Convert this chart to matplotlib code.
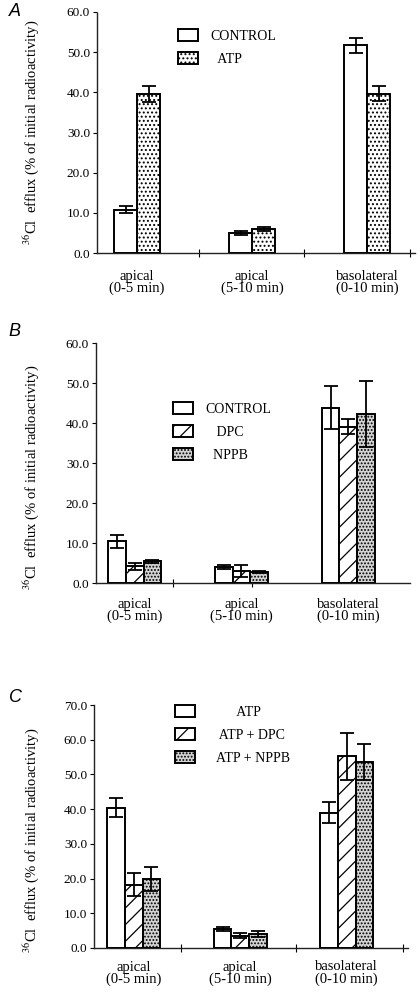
import matplotlib
matplotlib.use('Agg')
import matplotlib.pyplot as plt
from matplotlib.patches import Patch
import numpy as np

plt.rcParams['font.family'] = ['Liberation Serif', 'DejaVu Serif']
plt.rcParams['mathtext.fontset'] = 'stix'
plt.rcParams['hatch.linewidth'] = 0.9

categories = ['apical\n(0-5 min)', 'apical\n(5-10 min)', 'basolateral\n(0-10 min)']

a_series = ['CONTROL', 'ATP']
a_means = [[10.8, 5.0, 51.7], [39.5, 6.0, 39.7]]
a_errs = [[0.9, 0.5, 1.9], [2.0, 0.4, 1.8]]

b_series = ['CONTROL', 'DPC', 'NPPB']
b_means = [[10.4, 3.9, 43.8], [4.2, 3.0, 39.1], [5.4, 2.7, 42.2]]
b_errs = [[1.7, 0.5, 5.4], [0.9, 1.4, 1.9], [0.4, 0.2, 8.2]]

c_series = ['ATP', 'ATP + DPC', 'ATP + NPPB']
c_means = [[40.4, 5.5, 39.0], [18.2, 3.5, 55.2], [19.9, 4.0, 53.6]]
c_errs = [[2.7, 0.5, 3.0], [3.3, 0.7, 6.8], [3.4, 0.8, 5.3]]

yticks_ab = [0, 10, 20, 30, 40, 50, 60]
yticks_c = [0, 10, 20, 30, 40, 50, 60, 70]

ylabel = r'$^{36}$Cl  efflux (% of initial radioactivity)'

STY_WHITE = dict(facecolor='white', hatch=None)
STY_DOTS = dict(facecolor='white', hatch='....')
STY_DIAG = dict(facecolor='white', hatch='//')
STY_GRAY = dict(facecolor='#d4d4d4', hatch='.....')

fig = plt.figure(figsize=(4.2, 9.94), dpi=100)
W, H = 420.0, 994.0


def panel(rect_px, series, means, errs, styles, width, xlim, yticks, bticks,
          leg_labels, leg_anchor, handletextpad, letter, letter_xy, ylab_y, pad):
    x0, y_top, x1, y_bot = rect_px
    ax = fig.add_axes([x0 / W, 1 - y_bot / H, (x1 - x0) / W, (y_bot - y_top) / H])
    x = np.arange(len(categories))
    n = len(series)
    for j in range(n):
        pos = x + (j - (n - 1) / 2) * width
        ax.bar(pos, means[j], width, color=styles[j]['facecolor'], hatch=styles[j]['hatch'],
               edgecolor='black', linewidth=1.4, zorder=3)
        ax.errorbar(pos, means[j], yerr=errs[j], fmt='none', ecolor='black',
                    elinewidth=1.3, capsize=5, capthick=1.3, zorder=4)
    ax.set_xlim(*xlim)
    ax.set_ylim(yticks[0], yticks[-1])
    ax.set_yticks(yticks)
    ax.set_yticklabels(['%.1f' % v for v in yticks], fontsize=9.5)
    ax.set_xticks(x)
    ax.set_xticklabels(categories, fontsize=10.5, linespacing=0.9)
    ax.tick_params(axis='x', which='major', length=0, pad=pad)
    ax.set_xticks(bticks, minor=True)
    ax.tick_params(axis='x', which='minor', length=6, direction='inout', width=0.8)
    ax.tick_params(axis='y', length=3, width=0.8, pad=2)
    for s in ['top', 'right']:
        ax.spines[s].set_visible(False)
    for s in ['left', 'bottom']:
        ax.spines[s].set_linestyle((0, (1, 1)))
        ax.spines[s].set_linewidth(1.0)
        ax.spines[s].set_color('#222222')
    ax.set_ylabel(ylabel, fontsize=10.5)
    ax.yaxis.set_label_coords((41 - x0) / (x1 - x0), ylab_y)
    handles = [Patch(facecolor=st['facecolor'], hatch=st['hatch'], edgecolor='black',
                     linewidth=1.4) for st in styles]
    ax.legend(handles, leg_labels, loc='upper left', bbox_to_anchor=leg_anchor,
              frameon=False, fontsize=10, handlelength=1.45, handleheight=1.0,
              handletextpad=handletextpad, labelspacing=0.65, borderpad=0,
              borderaxespad=0)
    fig.text(letter_xy[0] / W, 1 - letter_xy[1] / H, letter, family='Liberation Sans',
             style='italic', fontsize=13, ha='center', va='center')
    return ax


panel((97, 12, 415, 253), a_series, a_means, a_errs, [STY_WHITE, STY_DOTS], 0.2,
      (-0.348, 2.417), yticks_ab, [0.54, 1.45, 2.37],
      ['CONTROL', '  ATP'], (0.255, 0.93), 0.9, 'A', (15, 12), 0.5, 12)

panel((96, 343, 410, 583), b_series, b_means, b_errs, [STY_WHITE, STY_DIAG, STY_GRAY], 0.168,
      (-0.36, 2.575), yticks_ab, [0.36, 1.1],
      ['CONTROL', '   DPC', '  NPPB'], (0.245, 0.755), 0.9, 'B', (14, 331), 0.44, 10.5)

panel((94, 705, 408, 948), c_series, c_means, c_errs, [STY_WHITE, STY_DIAG, STY_GRAY], 0.165,
      (-0.373, 2.575), yticks_c, [0.44, 1.52, 2.53],
      ['      ATP', ' ATP + DPC', 'ATP + NPPB'], (0.258, 1.0), 1.5, 'C', (15, 697), 0.445, 9)

fig.savefig('out.png', dpi=100)
